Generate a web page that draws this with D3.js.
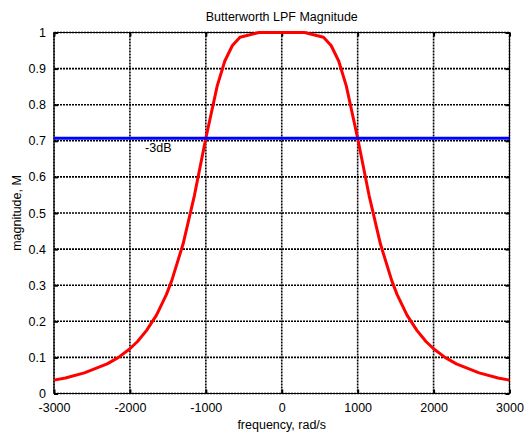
<!DOCTYPE html>
<html>
<head>
<meta charset="utf-8">
<script src="https://cdn.jsdelivr.net/npm/d3@7"></script>
<style>
  body { margin: 0; background: #fff; }
  svg text { font-family: "Liberation Sans", Arial, sans-serif; fill: #000; }
</style>
</head>
<body>
<svg id="chart" width="527" height="437"></svg>
<script>
// frequency samples (rad/s) and magnitude
var freq = [-3000, -2850, -2600, -2300, -2150, -2000, -1900, -1780, -1650, -1520,
            -1450, -1300, -1150, -1000, -850, -750, -650, -550, -300, 0,
            300, 550, 650, 750, 850, 1000, 1150, 1300, 1450, 1520,
            1650, 1780, 1900, 2000, 2150, 2300, 2600, 2850, 3000];
var mag = [0.037, 0.043, 0.057, 0.082, 0.100, 0.124, 0.144, 0.175, 0.217, 0.274,
           0.312, 0.414, 0.549, 0.707, 0.852, 0.921, 0.964, 0.987, 1.000, 1.000,
           1.000, 0.987, 0.964, 0.921, 0.852, 0.707, 0.549, 0.414, 0.312, 0.274,
           0.217, 0.175, 0.144, 0.124, 0.100, 0.082, 0.057, 0.043, 0.037];
var cutoffLevel = [0.7071, 0.7071];
var cutoffFreq = [-3000, 3000];
var xTicks = [-3000, -2000, -1000, 0, 1000, 2000, 3000];
var yTicks = [0, 0.1, 0.2, 0.3, 0.4, 0.5, 0.6, 0.7, 0.8, 0.9, 1];

var svg = d3.select("#chart");
var plotLeft = 54, plotRight = 509.5, plotTop = 32.5, plotBottom = 393.5;

var x = d3.scaleLinear().domain([-3000, 3000]).range([plotLeft, plotRight]);
var y = d3.scaleLinear().domain([0, 1]).range([plotBottom, plotTop]);

// grid (dotted)
var grid = svg.append("g");
grid.selectAll(".gx").data(xTicks).enter().append("line")
    .attr("x1", function(d){ return x(d); }).attr("x2", function(d){ return x(d); })
    .attr("y1", plotTop).attr("y2", plotBottom);
grid.selectAll(".gy").data(yTicks).enter().append("line")
    .attr("y1", function(d){ return y(d); }).attr("y2", function(d){ return y(d); })
    .attr("x1", plotLeft).attr("x2", plotRight);
grid.selectAll("line")
    .attr("stroke", "#000").attr("stroke-width", 1.6)
    .attr("stroke-dasharray", "2,1");

// box
svg.append("rect")
    .attr("x", plotLeft).attr("y", plotTop)
    .attr("width", plotRight - plotLeft).attr("height", plotBottom - plotTop)
    .attr("fill", "none").attr("stroke", "#000").attr("stroke-width", 1);

// axes with inward ticks, MATLAB style
var xAxis = d3.axisBottom(x).tickValues(xTicks).tickSize(-4).tickPadding(10)
    .tickFormat(function(d){ return String(d); });
var yAxis = d3.axisLeft(y).tickValues(yTicks).tickSize(-4).tickPadding(8)
    .tickFormat(function(d){ return d === 0 || d === 1 ? String(d) : d3.format(".1f")(d); });

function styleAxis(g){
    g.select(".domain").remove();
    g.selectAll(".tick line").attr("stroke", "#000").attr("stroke-width", 2);
    g.selectAll(".tick text").attr("font-size", "12.5px").attr("fill", "#222")
        .style("font-family", '"Liberation Sans", Arial, sans-serif');
}
svg.append("g").attr("transform", "translate(0," + plotBottom + ")").call(xAxis).call(styleAxis);
svg.append("g").attr("transform", "translate(" + plotLeft + ",0)").call(yAxis).call(styleAxis);
svg.append("g").attr("transform", "translate(0," + plotTop + ")")
    .call(d3.axisTop(x).tickValues(xTicks).tickSize(-4).tickFormat(""))
    .call(styleAxis);
svg.append("g").attr("transform", "translate(" + plotRight + ",0)")
    .call(d3.axisRight(y).tickValues(yTicks).tickSize(-4).tickFormat(""))
    .call(styleAxis);

// curves
var line = d3.line()
    .x(function(d){ return x(d[0]); })
    .y(function(d){ return y(d[1]); });

svg.append("path")
    .datum(d3.zip(freq, mag))
    .attr("d", line)
    .attr("fill", "none").attr("stroke", "#ff0000")
    .attr("stroke-width", 3).attr("stroke-linejoin", "round");

svg.append("path")
    .datum(d3.zip(cutoffFreq, cutoffLevel))
    .attr("d", line)
    .attr("fill", "none").attr("stroke", "#0000ff")
    .attr("stroke-width", 3);

svg.append("text")
    .attr("x", x(-1800)).attr("y", y(0.677))
    .attr("dominant-baseline", "middle")
    .attr("font-size", "12.5px").attr("fill", "#222").text("-3dB");

// labels
svg.append("text")
    .attr("x", (plotLeft + plotRight) / 2).attr("y", 21)
    .attr("text-anchor", "middle").attr("font-size", "12.5px").attr("fill", "#222")
    .text("Butterworth LPF Magnitude");
svg.append("text")
    .attr("x", (plotLeft + plotRight) / 2).attr("y", 429)
    .attr("text-anchor", "middle").attr("font-size", "12.5px").attr("fill", "#222")
    .text("frequency, rad/s");
svg.append("text")
    .attr("transform", "translate(21," + ((plotTop + plotBottom) / 2) + ") rotate(-90)")
    .attr("text-anchor", "middle").attr("font-size", "12.5px").attr("fill", "#222")
    .text("magnitude, M");
</script>
</body>
</html>
